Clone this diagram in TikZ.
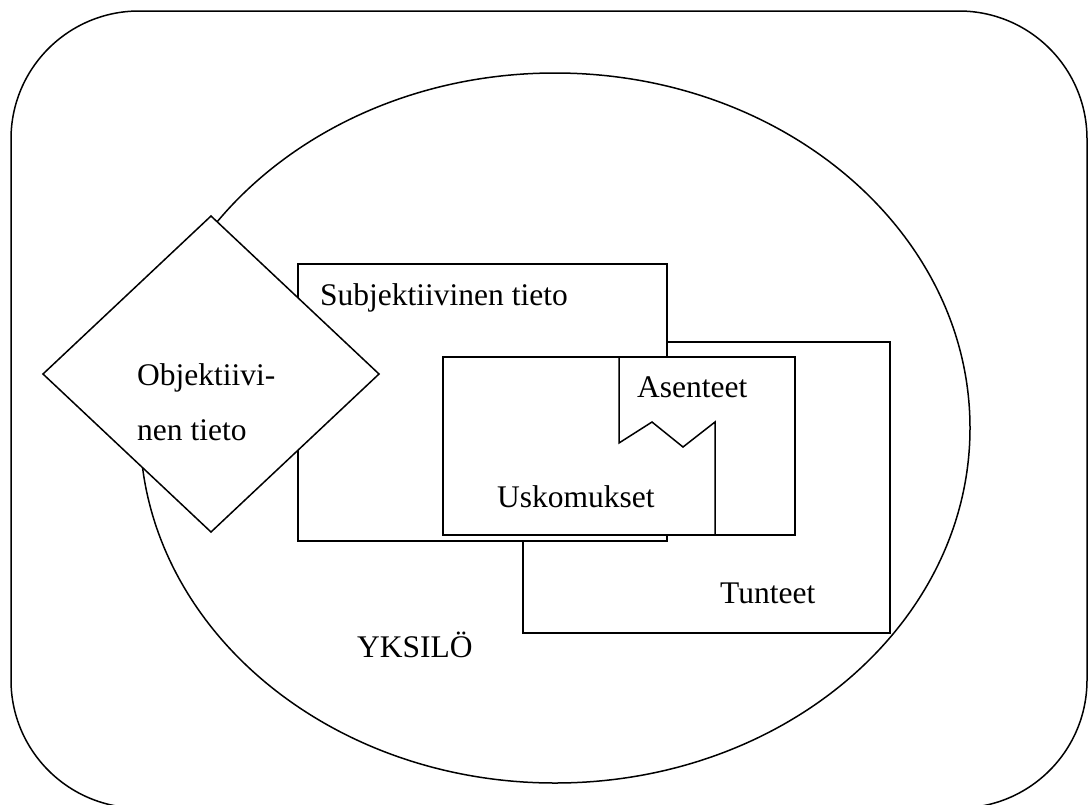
\documentclass[tikz,border=0pt]{standalone}
\usepackage{fontspec}
\setmainfont{Liberation Serif}
\begin{document}
\begin{tikzpicture}[x=1pt,y=-1pt,
  line/.style={draw=black,line width=1.5pt,line join=miter},
  boxfill/.style={line,fill=white},
  lbl/.style={anchor=base west,inner sep=0pt,font=\fontsize{31.5pt}{38pt}\selectfont}]
\useasboundingbox (0,0) rectangle (1089,804);
% outer rounded frame (bottom edge falls just outside the picture)
\begin{scope}
\clip (0,0) rectangle (1089,804);
\draw[line,rounded corners=128pt] (11,11) rectangle (1087,808);
\end{scope}
% ellipse YKSILO
\draw[line] (555,428) ellipse [x radius=415, y radius=355];
% Tunteet box (behind)
\draw[boxfill] (523,342) rectangle (890,633);
% Subjektiivinen tieto box
\draw[boxfill] (298,264) rectangle (667,541);
% Uskomukset box
\draw[boxfill] (443,357) rectangle (795,535);
% Asenteet outline with zigzag
\draw[line] (619,357) -- (619,443) -- (652,422) -- (683,447) -- (715,422) -- (715,535);
% Objektiivinen tieto diamond
\draw[boxfill] (211,216) -- (379,374) -- (211,532) -- (43,374) -- cycle;
% labels
\node[lbl] (subj) at (320,305) {Subjektiivinen tieto};
\node[lbl] (ase) at (637,397) {Asenteet};
\node[lbl] (usk) at (497,507) {Uskomukset};
\node[lbl] (tun) at (720,603) {Tunteet};
\node[lbl] (yks) at (357,657) {YKSILÖ};
\node[lbl] (obj1) at (137,385) {Objektiivi-};
\node[lbl] (obj2) at (137,440) {nen tieto};
\end{tikzpicture}
\end{document}
